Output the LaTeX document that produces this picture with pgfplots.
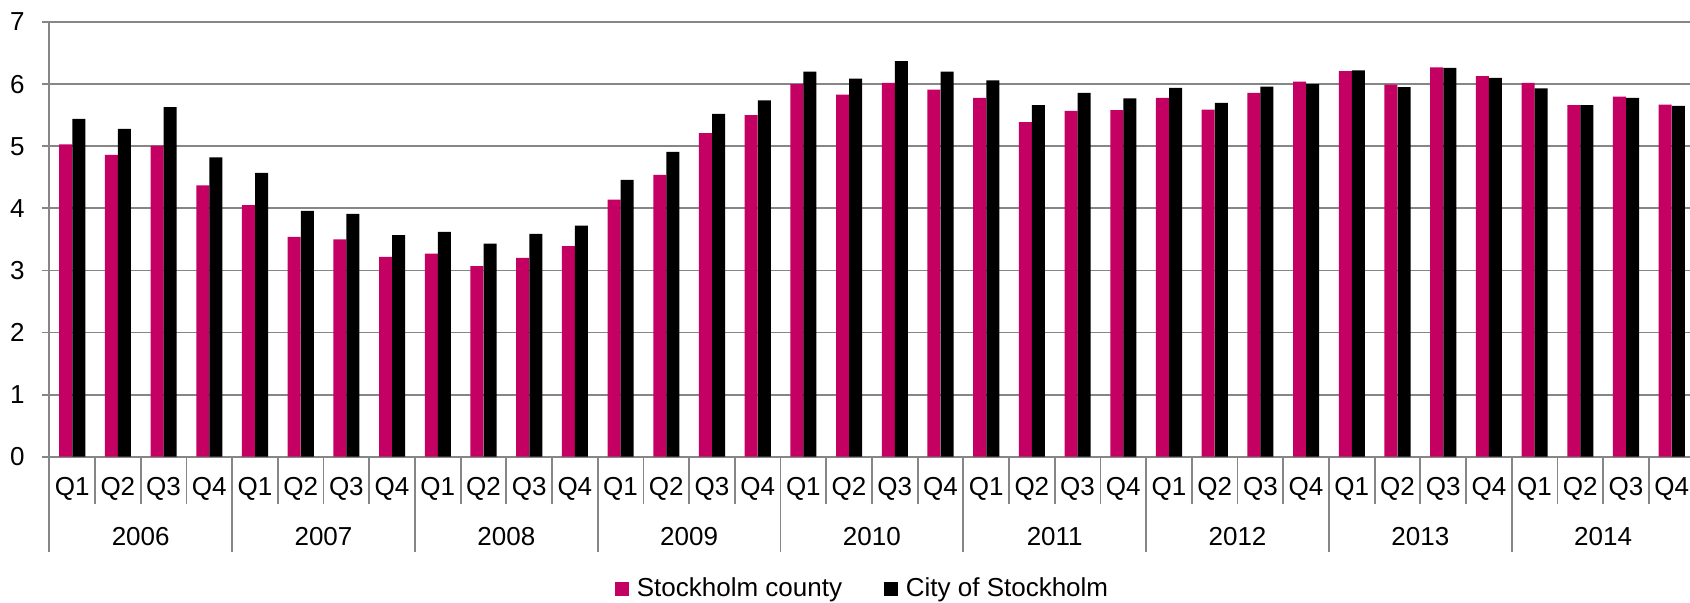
\documentclass[border=0pt]{standalone}
\usepackage{fontspec}
\setmainfont{Liberation Sans}
\usepackage{pgfplots}
\pgfplotsset{compat=1.18}
\definecolor{pinkc}{RGB}{196,0,98}
\definecolor{gridc}{RGB}{134,134,134}
\pgfplotsset{sqlegend/.style={legend image code/.code={\fill[##1] (0pt,-3.5pt) rectangle (7pt,3.5pt);}}}
\begin{document}
\fontsize{13}{15.6}\selectfont
\begin{tikzpicture}[font=\fontsize{13}{15.6}\selectfont]
\begin{axis}[
  at={(24.65pt,72.65pt)}, anchor=south west,
  scale only axis, width=822.6pt, height=217.35pt,
  xmin=0, xmax=36, ymin=0, ymax=7,
  ytick={0,1,...,7},
  xtick={0.5,1.5,...,35.5},
  xticklabels={Q1,Q2,Q3,Q4,Q1,Q2,Q3,Q4,Q1,Q2,Q3,Q4,Q1,Q2,Q3,Q4,Q1,Q2,Q3,Q4,Q1,Q2,Q3,Q4,Q1,Q2,Q3,Q4,Q1,Q2,Q3,Q4,Q1,Q2,Q3,Q4},
  minor xtick={0,1,...,36},
  tick align=outside,
  major tick length=3.8pt,
  minor tick length=23.6pt,
  major x tick style={draw=none},
  tick style={gridc, line width=0.9pt},
  axis x line*=bottom, axis y line*=left,
  axis line style={gridc, line width=0.9pt},
  ymajorgrids, grid style={gridc, line width=0.9pt},
  /pgf/number format/assume math mode=true,
  ticklabel style={font=\fontsize{13}{15.6}\selectfont},
  yticklabel style={xshift=-4pt},
  xticklabel style={yshift=-2pt},
  clip=false,
  legend columns=2,
  legend style={at={(0.4946,-0.305)}, anchor=center, draw=none, fill=none,
    font=\fontsize{13}{15.6}\selectfont,
    nodes={inner sep=1.2pt},
    /tikz/every odd column/.append style={column sep=2.5pt},
    /tikz/every even column/.append style={column sep=20pt}},
]
\addplot[ybar, bar width=6.5pt, bar shift=-3.25pt, fill=pinkc, draw=none, sqlegend] coordinates {
(0.5,5.03)(1.5,4.86)(2.5,5.01)(3.5,4.37)
(4.5,4.05)(5.5,3.54)(6.5,3.50)(7.5,3.22)
(8.5,3.27)(9.5,3.07)(10.5,3.20)(11.5,3.39)
(12.5,4.14)(13.5,4.54)(14.5,5.21)(15.5,5.50)
(16.5,6.00)(17.5,5.83)(18.5,6.02)(19.5,5.91)
(20.5,5.78)(21.5,5.39)(22.5,5.57)(23.5,5.58)
(24.5,5.78)(25.5,5.59)(26.5,5.86)(27.5,6.04)
(28.5,6.21)(29.5,5.99)(30.5,6.27)(31.5,6.13)
(32.5,6.02)(33.5,5.66)(34.5,5.80)(35.5,5.67)
};
\addlegendentry{Stockholm county}
\addplot[ybar, bar width=6.5pt, bar shift=3.3pt, fill=black, draw=none, sqlegend] coordinates {
(0.5,5.44)(1.5,5.28)(2.5,5.63)(3.5,4.82)
(4.5,4.57)(5.5,3.96)(6.5,3.91)(7.5,3.57)
(8.5,3.62)(9.5,3.43)(10.5,3.59)(11.5,3.72)
(12.5,4.46)(13.5,4.91)(14.5,5.52)(15.5,5.74)
(16.5,6.20)(17.5,6.09)(18.5,6.37)(19.5,6.20)
(20.5,6.06)(21.5,5.66)(22.5,5.86)(23.5,5.77)
(24.5,5.94)(25.5,5.70)(26.5,5.96)(27.5,6.00)
(28.5,6.22)(29.5,5.95)(30.5,6.26)(31.5,6.10)
(32.5,5.93)(33.5,5.66)(34.5,5.78)(35.5,5.65)
};
\addlegendentry{City of Stockholm}
\pgfplotsinvokeforeach{0,4,8,12,16,20,24,28,32,36}{
  \draw[gridc, line width=0.9pt] (axis cs:#1,0) -- ++(0,-47.5pt);
}
\node at (axis cs:2,0) [yshift=-40.15pt] {2006};
\node at (axis cs:6,0) [yshift=-40.15pt] {2007};
\node at (axis cs:10,0) [yshift=-40.15pt] {2008};
\node at (axis cs:14,0) [yshift=-40.15pt] {2009};
\node at (axis cs:18,0) [yshift=-40.15pt] {2010};
\node at (axis cs:22,0) [yshift=-40.15pt] {2011};
\node at (axis cs:26,0) [yshift=-40.15pt] {2012};
\node at (axis cs:30,0) [yshift=-40.15pt] {2013};
\node at (axis cs:34,0) [yshift=-40.15pt] {2014};
\end{axis}
\pgfresetboundingbox
\useasboundingbox (0,0) rectangle (845pt,301pt);
\end{tikzpicture}
\end{document}
